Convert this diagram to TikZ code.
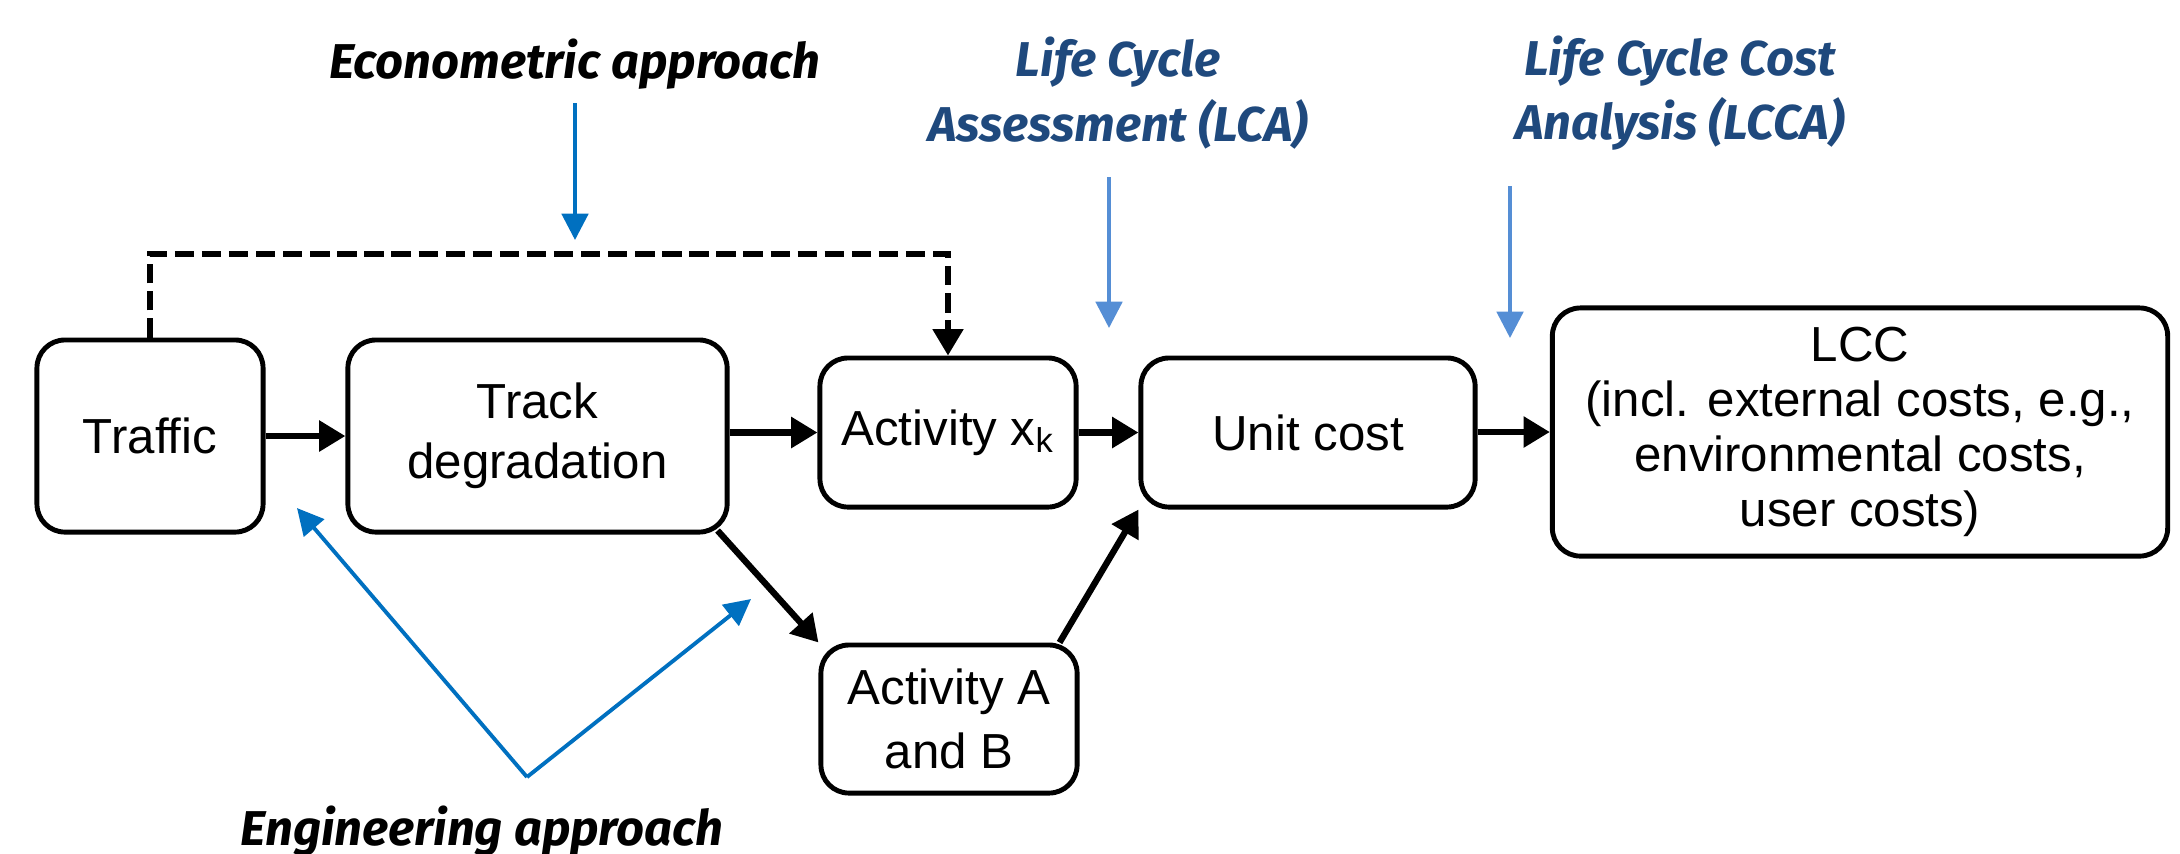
\documentclass[tikz,border=0pt]{standalone}
\usepackage{fontspec}
\setmainfont{Liberation Sans}
\newfontfamily\lblfont{Fira Sans}
\usetikzlibrary{arrows.meta}
\definecolor{engblue}{RGB}{0,112,192}
\definecolor{lcablue}{RGB}{85,142,213}
\definecolor{lbltext}{RGB}{31,73,125}
\begin{document}
\begin{tikzpicture}[x=0.01cm,y=-0.01cm,
  box/.style={draw,line width=1.4pt,rounded corners=0.28cm,inner sep=0pt,align=center,
    font=\fontsize{14}{17}\selectfont},
  flow/.style={line width=1.8pt,-{Triangle[length=7.5pt,width=8.5pt]}},
  hint/.style={line width=1.1pt,-{Triangle[length=7.5pt,width=7.5pt]}},
  lbl/.style={font=\lblfont\bfseries\itshape\fontsize{13.9}{18.4}\selectfont,align=center}]
\useasboundingbox (0,0) rectangle (2180,853);
% boxes
\node[box,minimum width=2.26cm,minimum height=1.92cm] (traffic) at (150,436) {Traffic};
\node[box,minimum width=3.79cm,minimum height=1.92cm] (track) at (537.5,436) {Track\\degradation};
\node[box,minimum width=2.56cm,minimum height=1.49cm] (xk) at (948,432.5) {Activity x\textsubscript{k}};
\node[box,minimum width=3.34cm,minimum height=1.49cm] (unit) at (1308,432.5) {Unit cost};
\node[box,minimum width=2.56cm,minimum height=1.48cm,font=\fontsize{14}{18}\selectfont] (acta) at (949,719) {Activity A\\and B};
\node[box,minimum width=6.15cm,minimum height=2.48cm,font=\fontsize{14}{15.6}\selectfont] (lcc) at (1860,432) {LCC\\(incl. external costs, e.g.,\\environmental costs,\\user costs)};
% black connectors
\draw[flow] (traffic.east) -- (track.west);
\draw[flow] (track.east |- xk.west) -- (xk.west);
\draw[flow] (xk.east) -- (unit.west);
\draw[flow] (unit.east |- lcc.west) -- (lcc.west);
\draw[flow] ([xshift=-0.12cm,yshift=0.04cm]track.south east) -- (acta.north west);
\draw[flow] ([xshift=-0.2cm]acta.north east) -- (unit.south west);
\coordinate (dashy) at (0,254);
\draw[line width=1.5pt,dash pattern=on 5.5pt off 2.2pt,-{Triangle[length=7.5pt,width=8.5pt]}]
  (traffic.north) -- (traffic.north |- dashy) -| (xk.north);
% labels
\node[lbl,anchor=base] (econ) at (575,78) {Econometric approach};
\coordinate (econtop) at (575,103);
\coordinate (econtip) at (575,240);
\draw[hint,engblue] (econtop) -- (econtip);
\node[lbl,text=lbltext] (lca) at (1118,93) {Life Cycle\\Assessment (LCA)};
\coordinate (lcatop) at (1109,177);
\coordinate (lcatip) at (1109,328);
\draw[hint,lcablue] (lcatop) -- (lcatip);
\node[lbl,text=lbltext] (lcca) at (1680,93) {Life Cycle Cost\\Analysis (LCCA)};
\coordinate (lccatop) at (1510,186);
\coordinate (lccatip) at (1510,338);
\draw[hint,lcablue] (lccatop) -- (lccatip);
\node[lbl,anchor=base] (eng) at (482,845) {Engineering approach};
\coordinate (engv) at (527,777);
\coordinate (engl) at (297,508);
\coordinate (engr) at (751,599);
\draw[hint,engblue] (engv) -- (engl);
\draw[hint,engblue] (engv) -- (engr);
\end{tikzpicture}
\end{document}
